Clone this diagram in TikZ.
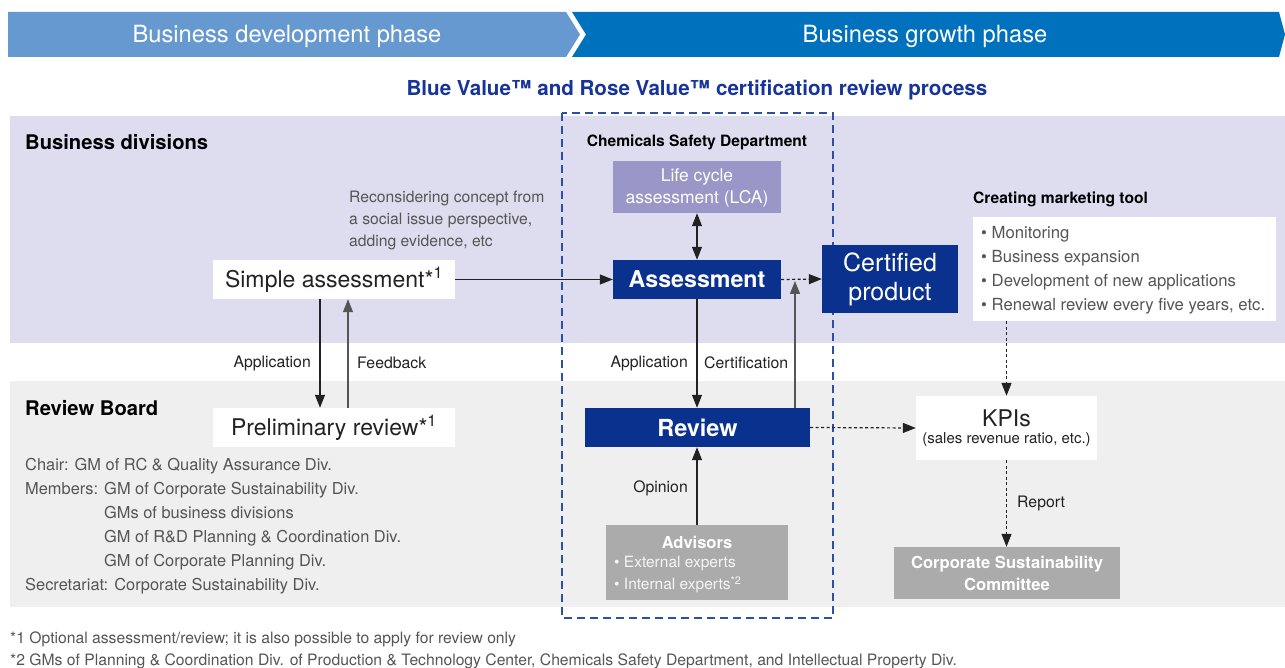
\documentclass[tikz,border=0pt]{standalone}
\usepackage{fontspec}
\setmainfont{TeX Gyre Heros}
\usetikzlibrary{arrows.meta}
\definecolor{bandL}{HTML}{6699CF}
\definecolor{bandR}{HTML}{0071BC}
\definecolor{titleblue}{HTML}{17349A}
\definecolor{navy}{HTML}{0B318F}
\definecolor{frameblue}{HTML}{2B50AA}
\definecolor{lav}{HTML}{DEDCEF}
\definecolor{lca}{HTML}{9A96C8}
\definecolor{grayband}{HTML}{EFEFEF}
\definecolor{graybox}{HTML}{AAABAA}
\definecolor{txtgray}{HTML}{555555}
\definecolor{txtdark}{HTML}{222222}
\newcommand\myfs[2]{\fontsize{#1}{#2}\selectfont}
\begin{document}
\begin{tikzpicture}[x=1pt,y=-1pt,
  box/.style={inner sep=0pt, align=center},
  navybox/.style={box, fill=navy, text=white},
  whitebox/.style={box, fill=white, text=txtdark},
  graybx/.style={box, fill=graybox, text=white},
  arr/.style={draw=txtdark, line width=1.2pt, -{Triangle[length=13pt,width=10pt]}},
  darr/.style={arr, dash pattern=on 3pt off 2.5pt},
  lbl/.style={inner sep=0pt, text=txtdark, font=\myfs{15.8}{18}},
  hdr/.style={inner sep=0pt, text=black, font=\myfs{20.2}{22}\bfseries}
]
\useasboundingbox (0,0) rectangle (1285,668);
\fill[white] (0,0) rectangle (1285,668);
% phase banners
\fill[bandL] (8,12) -- (566,12) -- (580,34.5) -- (566,57) -- (8,57) -- cycle;
\fill[bandR] (572,12) -- (1279,12) -- (1285,34.5) -- (1279,57) -- (572,57) -- (586,34.5) -- cycle;
\node[inner sep=0pt, text=white, font=\myfs{23.7}{26}] (ph1) at (287,36) {Business development phase};
\node[inner sep=0pt, text=white, font=\myfs{23.7}{26}] (ph2) at (925,36) {Business growth phase};
\node[inner sep=0pt, text=titleblue, font=\myfs{20.6}{22}\bfseries] (title) at (697,90) {Blue Value™ and Rose Value™ certification review process};
% bands
\fill[lav] (10,116) rectangle (1285,343);
\fill[grayband] (10,381) rectangle (1285,607);
% frame
\draw[frameblue, line width=1.6pt, dash pattern=on 8pt off 5pt] (562,113) rectangle (833,618);
\node[hdr, anchor=west] (bd) at (25,142) {Business divisions};
\node[hdr, anchor=west] (rb) at (25,408) {Review Board};
\node[inner sep=0pt, font=\myfs{15.6}{17}\bfseries] (csd) at (697,142) {Chemicals Safety Department};
% boxes
\node[box, fill=lca, text=white, minimum width=168pt, minimum height=52pt, font=\myfs{17.5}{22}] (lca) at (697,187) {\rule{0pt}{15pt}Life cycle\\assessment (LCA)};
\node[navybox, minimum width=168pt, minimum height=39pt, font=\myfs{23.2}{24}\bfseries] (assess) at (697,279.5) {Assessment};
\node[navybox, minimum width=136pt, minimum height=68pt, font=\myfs{25}{29}] (cert) at (890,279) {\rule{0pt}{20pt}Certified\\product};
\node[whitebox, minimum width=242pt, minimum height=39pt, font=\myfs{23}{26}] (simple) at (334,279.5) {Simple assessment*\textsuperscript{1}};
\node[whitebox, minimum width=242pt, minimum height=39pt, font=\myfs{23}{26}] (prelim) at (334,427.5) {Preliminary review*\textsuperscript{1}};
\node[navybox, minimum width=225pt, minimum height=39pt, font=\myfs{23.5}{26}\bfseries] (review) at (697.5,427.5) {Review};
\node[graybx, minimum width=182pt, minimum height=75pt] (adv) at (697,562.5) {};
\node[inner sep=0pt, text=white, font=\myfs{16.5}{18}\bfseries] (advt) at (697,542) {Advisors};
\node[inner sep=0pt, anchor=west, align=left, text=white!92!gray, font=\myfs{15.5}{22}] (advl) at (614,575) {• External experts\\• Internal experts\textsuperscript{*2}};
\node[whitebox, minimum width=181pt, minimum height=64pt] (kpi) at (1006.5,428) {{\myfs{23}{24}KPIs}\\[5pt]{\myfs{15}{16}(sales revenue ratio, etc.)}};
\node[graybx, minimum width=226pt, minimum height=52pt, font=\myfs{16.6}{22}\bfseries] (csc) at (1007,573) {Corporate Sustainability\\Committee};
\node[inner sep=0pt, anchor=west, font=\myfs{15.6}{17}\bfseries] (mkth) at (973,199) {Creating marketing tool};
\node[whitebox, minimum width=303pt, minimum height=104pt] (mkt) at (1124.5,269) {};
\node[inner sep=0pt, anchor=west, align=left, text=txtgray, font=\myfs{16.7}{24}] (mktl) at (981,270) {• Monitoring\\• Business expansion\\• Development of new applications\\• Renewal review every five years, etc.};
% texts
\node[inner sep=0pt, anchor=west, align=left, text=txtgray, font=\myfs{15.7}{22}] (recon) at (349,220) {Reconsidering concept from\\a social issue perspective,\\adding evidence, etc};
\node[inner sep=0pt, anchor=west, align=left, text=txtgray, font=\myfs{16.4}{24}] (members) at (25,526) {Chair: GM of RC \& Quality Assurance Div.\\Members: GM of Corporate Sustainability Div.\\\hspace*{79pt}GMs of business divisions\\\hspace*{79pt}GM of R\&D Planning \& Coordination Div.\\\hspace*{79pt}GM of Corporate Planning Div.\\Secretariat: Corporate Sustainability Div.};
\node[inner sep=0pt, anchor=west, text=txtgray, font=\myfs{15.7}{17}] (fn1) at (10,639) {*1 Optional assessment/review; it is also possible to apply for review only};
\node[inner sep=0pt, anchor=west, text=txtgray, font=\myfs{15.7}{17}] (fn2) at (10,661) {*2 GMs of Planning \& Coordination Div. of Production \& Technology Center, Chemicals Safety Department, and Intellectual Property Div.};
% connector labels
\node[lbl, anchor=east] (l1) at (311,363) {Application};
\node[lbl, anchor=west] (l2) at (357,363) {Feedback};
\node[lbl, anchor=east] (l3) at (688,363) {Application};
\node[lbl, anchor=west] (l4) at (704,363) {Certification};
\node[lbl, anchor=east] (l5) at (688,488) {Opinion};
\node[lbl, anchor=west] (l6) at (1017,503) {Report};
% connectors
\coordinate (certjoin) at (795,281);
\draw[arr] (simple.east) -- (assess.west);
\draw[arr] ([xshift=-14pt]simple.south) -- ([xshift=-14pt]prelim.north);
\draw[arr, draw=txtgray] ([xshift=14pt]prelim.north) -- ([xshift=14pt]simple.south);
\draw[arr, {Triangle[length=13pt,width=10pt]}-{Triangle[length=13pt,width=10pt]}] (lca.south) -- (assess.north);
\draw[darr] (assess.east) -- (cert.west);
\draw[arr] (assess.south) -- (assess.south |- review.north);
\draw[arr, draw=txtgray] (review.north -| certjoin) -- (certjoin);
\draw[arr] (adv.north) -- (adv.north |- review.south);
\draw[darr] (review.east) -- (kpi.west);
\draw[darr] (kpi.north |- mkt.south) -- (kpi.north);
\draw[darr] (kpi.south) -- (csc.north -| kpi.south);
\end{tikzpicture}
\end{document}
